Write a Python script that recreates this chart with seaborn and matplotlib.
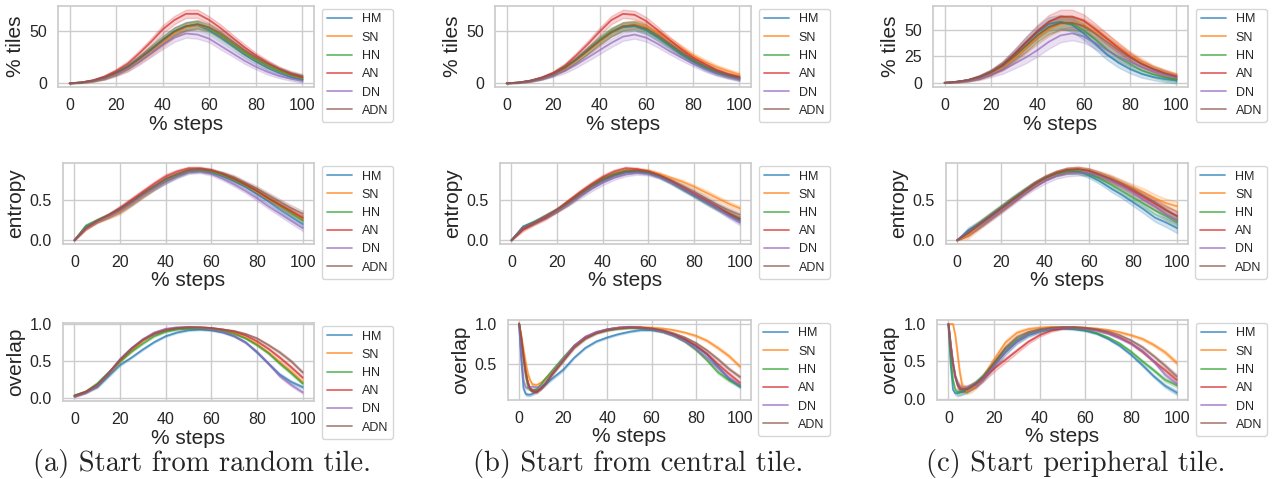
import pandas as pd
import seaborn as sns
import matplotlib.pyplot as plt

methods = ['HM', 'SN', 'HN', 'AN', 'DN', 'ADN']
steps = [0, 5, 10, 15, 20, 25, 30, 35, 40, 45, 50, 55, 60, 65, 70, 75, 80, 85, 90, 95, 100]
steps_fine = [0, 1, 2, 3, 4, 5, 6, 8, 10, 12, 15, 20, 25, 30, 35, 40, 45, 50, 55, 60,
              65, 70, 75, 80, 85, 90, 95, 100]

# % tiles (rows: HM, SN, HN, AN, DN, ADN)
tiles_random = [
    [0, 0.8, 2.5, 5.5, 10, 16, 24, 32, 41, 50, 55, 56, 51, 44, 36, 28, 21, 15, 10, 6, 3.5],
    [0, 0.7, 2.2, 5, 9, 14, 22, 30, 39, 48, 54, 56, 53, 46, 38, 30, 23, 17, 12, 8, 5],
    [0, 0.8, 2.5, 5.5, 10, 16, 24, 33, 42, 50, 55, 57, 53, 46, 38, 30, 23, 17, 12, 8, 5],
    [0, 0.9, 3, 6.5, 12, 19, 29, 40, 52, 61, 67, 67, 61, 53, 44, 35, 27, 20, 14, 9, 6],
    [0, 0.8, 2.4, 5, 9, 14, 21, 29, 37, 44, 48, 47, 43, 36, 29, 22, 16, 11, 7, 4.5, 2.5],
    [0, 0.8, 2.5, 5.5, 10, 16, 24, 33, 42, 50, 55, 57, 54, 48, 40, 32, 25, 19, 14, 10, 7],
]
tiles_central = [
    [0, 0.7, 2.3, 5, 9, 15, 23, 32, 41, 49, 54, 55, 51, 44, 36, 28, 21, 15, 10, 7, 4.5],
    [0, 0.7, 2.2, 5, 9, 14, 22, 31, 40, 49, 55, 57, 55, 49, 41, 34, 27, 21, 16, 12, 8.5],
    [0, 0.7, 2.3, 5, 9, 15, 23, 32, 42, 50, 55, 56, 52, 45, 37, 29, 22, 16, 11, 7.5, 5],
    [0, 0.8, 2.5, 5.5, 10, 17, 27, 38, 50, 61, 67, 66, 60, 51, 42, 33, 25, 19, 13, 9, 6],
    [0, 0.6, 2, 4.5, 8, 12, 18, 25, 32, 39, 45, 47, 44, 38, 31, 25, 19, 14, 9.5, 6.5, 4],
    [0, 0.7, 2.3, 5, 9, 15, 23, 32, 41, 49, 55, 56, 53, 46, 38, 30, 23, 17, 12, 8, 5.5],
]
tiles_peripheral = [
    [0, 1, 2.5, 5.5, 10, 17, 27, 38, 48, 56, 58, 55, 47, 37, 27, 19, 13, 8.5, 5.5, 3.5, 2],
    [0, 0.8, 2.2, 5, 9, 15, 23, 33, 43, 51, 56, 57, 55, 49, 42, 34, 26, 20, 14, 10, 7],
    [0, 0.9, 2.4, 5.3, 10, 16, 25, 35, 45, 53, 57, 56, 50, 41, 32, 24, 18, 12, 8, 5, 3],
    [0, 0.9, 2.5, 5.5, 10, 17, 27, 38, 49, 58, 63, 63, 59, 51, 42, 33, 25, 18, 13, 9, 6],
    [0, 0.7, 2, 4.2, 8, 12, 18, 24, 31, 39, 45, 47, 44, 38, 31, 25, 20, 15, 11, 8, 5],
    [0, 0.9, 2.4, 5.3, 10, 16, 25, 35, 45, 53, 57, 57, 54, 47, 39, 31, 24, 18, 13, 9, 6],
]
tiles_random_sd = [0, 0.3, 0.8, 1.5, 2, 2.5, 3, 3.5, 4, 4, 4, 4, 3.5, 3.5, 3, 3, 2.5, 2.5, 2, 2, 2]
tiles_central_sd = [0, 0.3, 0.8, 1.3, 1.8, 2.3, 2.8, 3.3, 3.8, 4, 4, 4, 3.8, 3.5, 3, 3, 2.5, 2.5, 2, 2, 2]
tiles_peripheral_sd = [0, 0.5, 1, 1.8, 2.5, 3.5, 4.5, 5.5, 6, 6.5, 6.5, 6.5, 6, 5.5, 5, 4.5, 4, 3.5, 3, 3, 2.5]

# entropy
entropy_random = [
    [0, 0.17, 0.24, 0.30, 0.37, 0.46, 0.56, 0.65, 0.73, 0.80, 0.85, 0.86, 0.84, 0.79, 0.73, 0.66, 0.57, 0.48, 0.38, 0.29, 0.20],
    [0, 0.15, 0.23, 0.29, 0.35, 0.45, 0.55, 0.65, 0.74, 0.81, 0.86, 0.87, 0.85, 0.81, 0.75, 0.68, 0.60, 0.51, 0.43, 0.35, 0.27],
    [0, 0.18, 0.25, 0.31, 0.38, 0.47, 0.57, 0.66, 0.75, 0.81, 0.86, 0.87, 0.85, 0.81, 0.75, 0.68, 0.61, 0.52, 0.43, 0.34, 0.25],
    [0, 0.15, 0.24, 0.31, 0.40, 0.50, 0.60, 0.70, 0.79, 0.85, 0.89, 0.89, 0.87, 0.82, 0.76, 0.69, 0.61, 0.52, 0.44, 0.36, 0.28],
    [0, 0.16, 0.24, 0.30, 0.37, 0.46, 0.56, 0.65, 0.73, 0.79, 0.84, 0.85, 0.82, 0.76, 0.69, 0.61, 0.52, 0.42, 0.33, 0.24, 0.15],
    [0, 0.15, 0.24, 0.31, 0.39, 0.48, 0.58, 0.67, 0.76, 0.82, 0.87, 0.88, 0.86, 0.83, 0.78, 0.71, 0.64, 0.56, 0.48, 0.40, 0.33],
]
entropy_central = [
    [0, 0.17, 0.23, 0.30, 0.38, 0.47, 0.57, 0.67, 0.75, 0.81, 0.85, 0.86, 0.84, 0.79, 0.72, 0.64, 0.56, 0.48, 0.40, 0.32, 0.25],
    [0, 0.15, 0.22, 0.30, 0.38, 0.48, 0.58, 0.68, 0.77, 0.83, 0.87, 0.88, 0.87, 0.83, 0.78, 0.73, 0.67, 0.60, 0.53, 0.46, 0.40],
    [0, 0.16, 0.23, 0.30, 0.38, 0.48, 0.58, 0.68, 0.77, 0.83, 0.87, 0.87, 0.85, 0.80, 0.73, 0.65, 0.57, 0.49, 0.41, 0.34, 0.27],
    [0, 0.13, 0.21, 0.28, 0.38, 0.49, 0.60, 0.70, 0.79, 0.86, 0.90, 0.89, 0.86, 0.81, 0.74, 0.66, 0.58, 0.50, 0.42, 0.34, 0.27],
    [0, 0.16, 0.22, 0.30, 0.37, 0.46, 0.55, 0.64, 0.72, 0.78, 0.82, 0.84, 0.83, 0.79, 0.72, 0.65, 0.57, 0.49, 0.41, 0.31, 0.22],
    [0, 0.15, 0.22, 0.30, 0.38, 0.47, 0.58, 0.68, 0.76, 0.82, 0.86, 0.87, 0.86, 0.81, 0.75, 0.68, 0.61, 0.53, 0.45, 0.38, 0.32],
]
entropy_peripheral = [
    [0, 0.12, 0.20, 0.30, 0.40, 0.50, 0.60, 0.69, 0.77, 0.83, 0.86, 0.85, 0.80, 0.73, 0.64, 0.56, 0.47, 0.38, 0.28, 0.22, 0.15],
    [0, 0.06, 0.17, 0.28, 0.38, 0.49, 0.59, 0.68, 0.77, 0.83, 0.87, 0.88, 0.86, 0.82, 0.77, 0.71, 0.65, 0.59, 0.52, 0.46, 0.42],
    [0, 0.10, 0.20, 0.30, 0.40, 0.50, 0.60, 0.69, 0.77, 0.82, 0.85, 0.85, 0.82, 0.76, 0.69, 0.61, 0.53, 0.45, 0.37, 0.30, 0.22],
    [0, 0.09, 0.19, 0.29, 0.39, 0.49, 0.59, 0.69, 0.77, 0.83, 0.87, 0.88, 0.86, 0.81, 0.75, 0.68, 0.61, 0.53, 0.45, 0.37, 0.30],
    [0, 0.10, 0.18, 0.27, 0.37, 0.47, 0.57, 0.66, 0.73, 0.79, 0.82, 0.83, 0.83, 0.80, 0.74, 0.67, 0.59, 0.50, 0.42, 0.32, 0.25],
    [0, 0.09, 0.19, 0.29, 0.39, 0.49, 0.59, 0.69, 0.77, 0.83, 0.87, 0.88, 0.86, 0.81, 0.76, 0.70, 0.63, 0.55, 0.47, 0.38, 0.30],
]
entropy_random_sd = [0, 0.02, 0.02, 0.025, 0.03, 0.03, 0.03, 0.03, 0.03, 0.025, 0.02, 0.02, 0.02, 0.02, 0.025, 0.025, 0.03, 0.03, 0.03, 0.035, 0.035]
entropy_central_sd = [0, 0.02, 0.02, 0.025, 0.025, 0.03, 0.03, 0.03, 0.03, 0.025, 0.02, 0.02, 0.02, 0.02, 0.02, 0.025, 0.025, 0.03, 0.03, 0.03, 0.03]
entropy_peripheral_sd = [0, 0.04, 0.04, 0.04, 0.04, 0.04, 0.035, 0.035, 0.03, 0.03, 0.03, 0.03, 0.03, 0.035, 0.04, 0.04, 0.045, 0.05, 0.05, 0.055, 0.06]

# overlap
overlap_random = [
    [0.03, 0.08, 0.15, 0.30, 0.45, 0.55, 0.66, 0.76, 0.84, 0.89, 0.92, 0.93, 0.92, 0.89, 0.84, 0.76, 0.62, 0.47, 0.32, 0.22, 0.15],
    [0.03, 0.08, 0.17, 0.33, 0.50, 0.64, 0.78, 0.87, 0.92, 0.95, 0.96, 0.95, 0.94, 0.92, 0.88, 0.82, 0.73, 0.62, 0.49, 0.36, 0.22],
    [0.04, 0.09, 0.20, 0.35, 0.50, 0.63, 0.74, 0.84, 0.90, 0.93, 0.94, 0.94, 0.93, 0.91, 0.87, 0.81, 0.72, 0.61, 0.47, 0.34, 0.20],
    [0.03, 0.09, 0.18, 0.34, 0.52, 0.67, 0.79, 0.88, 0.93, 0.95, 0.96, 0.96, 0.95, 0.93, 0.90, 0.85, 0.77, 0.67, 0.55, 0.42, 0.28],
    [0.02, 0.07, 0.17, 0.34, 0.53, 0.68, 0.80, 0.89, 0.94, 0.96, 0.96, 0.95, 0.93, 0.90, 0.84, 0.75, 0.63, 0.47, 0.30, 0.18, 0.08],
    [0.03, 0.08, 0.18, 0.34, 0.52, 0.67, 0.79, 0.87, 0.92, 0.95, 0.96, 0.96, 0.95, 0.93, 0.91, 0.87, 0.81, 0.72, 0.62, 0.50, 0.35],
]
overlap_central = [
    [1.0, 0.55, 0.20, 0.13, 0.12, 0.12, 0.13, 0.16, 0.20, 0.25, 0.32, 0.43, 0.58, 0.70, 0.78, 0.83, 0.87, 0.90, 0.92, 0.92, 0.90, 0.86, 0.80, 0.72, 0.62, 0.47, 0.32, 0.22],
    [1.0, 0.85, 0.68, 0.52, 0.38, 0.30, 0.25, 0.24, 0.27, 0.32, 0.40, 0.56, 0.72, 0.83, 0.89, 0.93, 0.95, 0.96, 0.96, 0.95, 0.94, 0.92, 0.89, 0.85, 0.79, 0.70, 0.60, 0.47],
    [1.0, 0.80, 0.55, 0.35, 0.22, 0.18, 0.17, 0.19, 0.25, 0.32, 0.42, 0.58, 0.73, 0.83, 0.89, 0.92, 0.94, 0.95, 0.95, 0.93, 0.90, 0.85, 0.78, 0.68, 0.55, 0.40, 0.30, 0.23],
    [1.0, 0.82, 0.60, 0.40, 0.27, 0.19, 0.16, 0.15, 0.20, 0.26, 0.38, 0.55, 0.72, 0.83, 0.89, 0.93, 0.95, 0.96, 0.95, 0.94, 0.91, 0.87, 0.81, 0.73, 0.63, 0.50, 0.38, 0.27],
    [1.0, 0.60, 0.30, 0.21, 0.20, 0.21, 0.22, 0.21, 0.22, 0.27, 0.38, 0.56, 0.73, 0.84, 0.90, 0.93, 0.95, 0.96, 0.95, 0.93, 0.90, 0.85, 0.78, 0.69, 0.58, 0.45, 0.33, 0.24],
    [1.0, 0.82, 0.60, 0.40, 0.27, 0.20, 0.18, 0.17, 0.20, 0.26, 0.37, 0.54, 0.70, 0.81, 0.88, 0.92, 0.94, 0.95, 0.95, 0.94, 0.92, 0.88, 0.83, 0.76, 0.67, 0.56, 0.44, 0.34],
]
overlap_peripheral = [
    [1.0, 0.45, 0.12, 0.07, 0.07, 0.08, 0.09, 0.11, 0.15, 0.20, 0.28, 0.45, 0.62, 0.76, 0.85, 0.90, 0.93, 0.94, 0.93, 0.91, 0.87, 0.80, 0.71, 0.59, 0.45, 0.30, 0.17, 0.08],
    [1.0, 1.0, 1.0, 0.85, 0.60, 0.35, 0.18, 0.10, 0.12, 0.17, 0.28, 0.52, 0.75, 0.88, 0.93, 0.95, 0.96, 0.96, 0.96, 0.95, 0.94, 0.92, 0.89, 0.85, 0.80, 0.72, 0.62, 0.48],
    [1.0, 0.55, 0.25, 0.12, 0.09, 0.09, 0.10, 0.12, 0.16, 0.20, 0.29, 0.47, 0.66, 0.79, 0.87, 0.91, 0.94, 0.95, 0.94, 0.92, 0.88, 0.82, 0.74, 0.63, 0.50, 0.38, 0.25, 0.18],
    [1.0, 0.70, 0.45, 0.28, 0.18, 0.13, 0.12, 0.13, 0.16, 0.19, 0.26, 0.40, 0.52, 0.64, 0.76, 0.85, 0.91, 0.94, 0.95, 0.94, 0.92, 0.88, 0.82, 0.74, 0.63, 0.50, 0.38, 0.25],
    [1.0, 0.72, 0.48, 0.30, 0.20, 0.15, 0.13, 0.14, 0.16, 0.18, 0.26, 0.44, 0.63, 0.77, 0.86, 0.91, 0.94, 0.95, 0.95, 0.93, 0.91, 0.87, 0.81, 0.74, 0.64, 0.50, 0.32, 0.20],
    [1.0, 0.72, 0.48, 0.30, 0.20, 0.15, 0.13, 0.13, 0.16, 0.20, 0.28, 0.48, 0.68, 0.82, 0.89, 0.93, 0.95, 0.96, 0.96, 0.95, 0.93, 0.90, 0.85, 0.78, 0.69, 0.57, 0.44, 0.30],
]
overlap_random_sd = [0.01, 0.01, 0.015, 0.015, 0.015, 0.01, 0.01, 0.01, 0.01, 0.01, 0.01, 0.01, 0.01, 0.01, 0.01, 0.01, 0.015, 0.015, 0.02, 0.02, 0.02]
overlap_central_sd = [0, 0.01, 0.01, 0.02, 0.02, 0.015, 0.015, 0.015, 0.015, 0.015, 0.015, 0.015, 0.01, 0.01,
                      0.01, 0.01, 0.01, 0.01, 0.01, 0.01, 0.01, 0.01, 0.01, 0.015, 0.015, 0.02, 0.02, 0.02]
overlap_peripheral_sd = [0, 0.005, 0.005, 0.02, 0.04, 0.04, 0.04, 0.04, 0.04, 0.04, 0.04, 0.04, 0.035, 0.03,
                         0.025, 0.02, 0.015, 0.01, 0.01, 0.01, 0.01, 0.01, 0.015, 0.015, 0.02, 0.02, 0.025, 0.03]

captions = ['(a) Start from random tile.', '(b) Start from central tile.', '(c) Start peripheral tile.']
ylabels = ['% tiles', 'entropy', 'overlap']
yticks = [
    [[0, 50], [0, 50], [0, 25, 50]],
    [[0.0, 0.5], [0.0, 0.5], [0.0, 0.5]],
    [[0.0, 0.5, 1.0], [0.5, 1.0], [0.0, 0.5, 1.0]],
]

panels = [
    [(steps, tiles_random, tiles_random_sd), (steps, tiles_central, tiles_central_sd),
     (steps, tiles_peripheral, tiles_peripheral_sd)],
    [(steps, entropy_random, entropy_random_sd), (steps, entropy_central, entropy_central_sd),
     (steps, entropy_peripheral, entropy_peripheral_sd)],
    [(steps, overlap_random, overlap_random_sd), (steps_fine, overlap_central, overlap_central_sd),
     (steps_fine, overlap_peripheral, overlap_peripheral_sd)],
]


def long_form(x, rows, spread):
    # mean, mean-spread, mean+spread per step so seaborn draws the band
    recs = []
    for m, vals in zip(methods, rows):
        for xi, v, s in zip(x, vals, spread):
            for d in (-s, 0, s):
                recs.append((xi, v + d, m))
    return pd.DataFrame(recs, columns=['step', 'value', 'method'])


sns.set_theme(style='whitegrid')
plt.rcParams['font.family'] = ['Liberation Sans', 'DejaVu Sans']

W, H = 1277, 479
fig = plt.figure(figsize=(W / 100, H / 100), dpi=100)

# axes boxes in pixels: left, top, right, bottom
boxes = [
    [(58, 6, 314, 87), (495, 6, 751, 87), (933, 6, 1188, 87)],
    [(63, 163, 314, 244), (500, 163, 751, 244), (946, 163, 1188, 244)],
    [(63, 323, 314, 401), (508, 320, 751, 400), (937, 320, 1188, 400)],
]

for r in range(3):
    for c in range(3):
        l, t, rr, b = boxes[r][c]
        ax = fig.add_axes([l / W, 1 - b / H, (rr - l) / W, (b - t) / H])
        x, rows, spread = panels[r][c]
        df = long_form(x, rows, spread)
        sns.lineplot(data=df, x='step', y='value', hue='method', hue_order=methods,
                     palette='tab10', estimator='mean', errorbar=('pi', 100),
                     linewidth=1.3, alpha=0.7, ax=ax)
        ax.set_xticks([0, 20, 40, 60, 80, 100])
        ax.set_yticks(yticks[r][c])
        ax.tick_params(labelsize=11.5, pad=2)
        ax.set_xlabel('% steps', fontsize=15, labelpad=1)
        ax.set_ylabel(ylabels[r], fontsize=15, labelpad=3)
        sns.move_legend(ax, 'upper left', bbox_to_anchor=(1.02, 1.0), borderaxespad=0.2,
                        title=None, fontsize=9, frameon=True)

centers = [202, 638, 1076]
for c in range(3):
    fig.text(centers[c] / W, 1 - 463 / H, captions[c], ha='center', va='center',
             fontsize=20.5, family='cmr10')

fig.savefig('out.png', dpi=100)
